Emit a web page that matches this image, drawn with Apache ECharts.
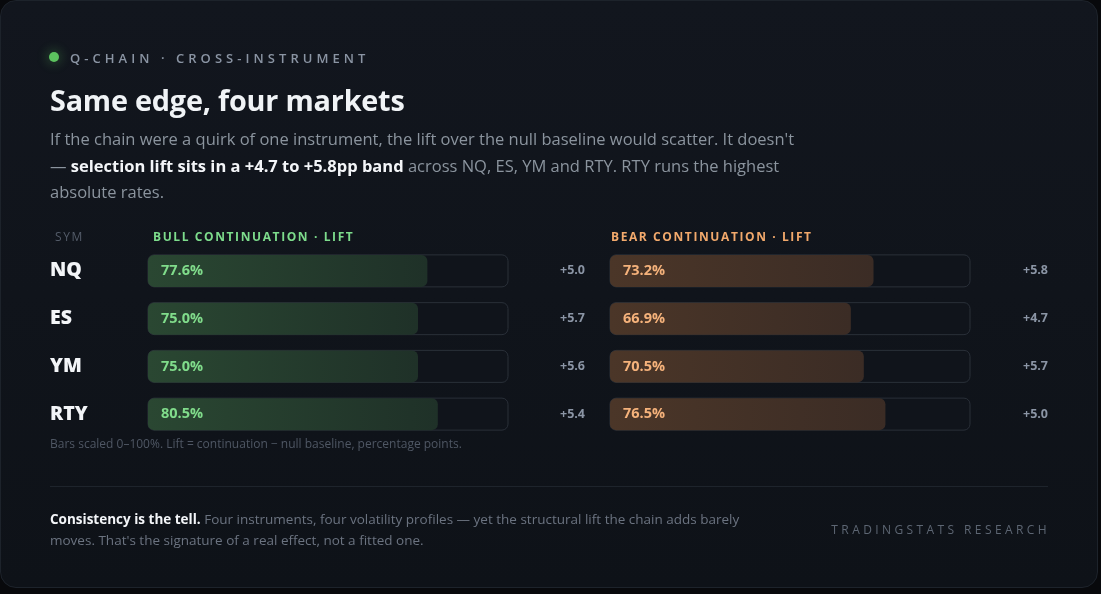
<!DOCTYPE html>
<html>
<head>
<meta charset="utf-8">
<script src="https://cdn.jsdelivr.net/npm/echarts@6/dist/echarts.min.js"></script>
<style>
  html, body { margin: 0; padding: 0; background: #08090c; }
  body { width: 1101px; height: 594px; position: relative; overflow: hidden; font-family: "Open Sans", "Noto Sans", sans-serif; }
  .card { position: absolute; left: 0; top: 0; width: 1098px; height: 588px; border-radius: 16px;
          background: linear-gradient(180deg, #12161e 0%, #0e1218 100%); border: 1px solid #1d232b; box-sizing: border-box; }
  #chart { position: absolute; left: 0; top: 0; width: 1101px; height: 594px; }
  .t { position: absolute; white-space: nowrap; }
  .dot { position: absolute; left: 49px; top: 52px; width: 10px; height: 10px; border-radius: 50%;
         background: #5cc25f; box-shadow: 0 0 10px 4px rgba(92,194,95,0.18); }
  .kicker { left: 70px; top: 49px; font-size: 13px; font-weight: 600; letter-spacing: 4.05px; color: #8a94a3; line-height: 18px; }
  .title { left: 50px; top: 80px; font-size: 28.8px; font-weight: 700; color: #f0f3f6; line-height: 40px; letter-spacing: -0.2px; }
  .lede { left: 50px; top: 126px; width: 752px; white-space: normal; font-size: 16.5px; line-height: 26.5px; color: #8b949e; }
  .lede b { color: #f3f5f8; font-weight: 700; }
  .hdr { top: 229px; font-size: 12px; line-height: 16px; letter-spacing: 1.6px; }
  .sym { left: 55px; color: #545c69; font-weight: 400; }
  .bull { left: 153px; color: #7ddc8c; font-weight: 700; }
  .bear { left: 611px; color: #f2a96c; font-weight: 700; }
  .note { left: 50px; top: 436px; font-size: 12px; line-height: 16px; color: #4f5764; }
  .rule { position: absolute; left: 50px; top: 486px; width: 998px; height: 1px; background: #1e242c; }
  .foot { left: 50px; top: 509px; width: 700px; white-space: normal; font-size: 13.5px; line-height: 21px; color: #6b7380; }
  .foot b { color: #f3f5f8; font-weight: 700; }
  .brand { right: 51px; top: 522px; font-size: 12px; line-height: 16px; letter-spacing: 3.4px; color: #5d6673; }
</style>
</head>
<body>
<div class="card"></div>
<div id="chart"></div>
<div class="dot"></div>
<div class="t kicker">Q-CHAIN · CROSS-INSTRUMENT</div>
<div class="t title">Same edge, four markets</div>
<div class="t lede">If the chain were a quirk of one instrument, the lift over the null baseline would scatter. It doesn't — <b>selection lift sits in a +4.7 to +5.8pp band</b> across NQ, ES, YM and RTY. RTY runs the highest absolute rates.</div>
<div class="t hdr sym">SYM</div>
<div class="t hdr bull">BULL CONTINUATION · LIFT</div>
<div class="t hdr bear">BEAR CONTINUATION · LIFT</div>
<div class="t note">Bars scaled 0–100%. Lift = continuation − null baseline, percentage points.</div>
<div class="rule"></div>
<div class="t foot"><b>Consistency is the tell.</b> Four instruments, four volatility profiles — yet the structural lift the chain adds barely moves. That's the signature of a real effect, not a fitted one.</div>
<div class="t brand">TRADINGSTATS RESEARCH</div>
<script>
const symbols = ['NQ', 'ES', 'YM', 'RTY'];
const bullRate = [77.6, 75.0, 75.0, 80.5];
const bullLift = [5.0, 5.7, 5.6, 5.4];
const bearRate = [73.2, 66.9, 70.5, 76.5];
const bearLift = [5.8, 4.7, 5.7, 5.0];

const FONT = '"Open Sans", "Noto Sans", sans-serif';
const fmtLift = v => '+' + v.toFixed(1);

function grad(a, b) {
  return new echarts.graphic.LinearGradient(0, 0, 1, 0, [
    {offset: 0, color: a}, {offset: 1, color: b}
  ]);
}

function barSeries(idx, data, from, to, labelColor) {
  return {
    type: 'bar',
    xAxisIndex: idx,
    yAxisIndex: idx * 2,
    data: data,
    barWidth: 32,
    showBackground: true,
    backgroundStyle: {color: '#10141b', borderColor: '#2a3039', borderWidth: 1, borderRadius: 6},
    itemStyle: {color: grad(from, to), borderRadius: 6},
    label: {
      show: true, position: 'insideLeft', distance: 13,
      formatter: p => p.value.toFixed(1) + '%',
      color: labelColor, fontFamily: FONT, fontSize: 14.5, fontWeight: 700
    },
    silent: true
  };
}

const chart = echarts.init(document.getElementById('chart'));
const grids = [
  {left: 148, top: 247, width: 360, height: 191},
  {left: 610, top: 247, width: 360, height: 191}
];
chart.setOption({
  animation: false,
  grid: grids,
  xAxis: grids.map((g, i) => ({
    type: 'value', gridIndex: i, min: 0, max: 100, show: false
  })),
  yAxis: [
    {type: 'category', gridIndex: 0, data: symbols, inverse: true, position: 'left',
     axisLine: {show: false}, axisTick: {show: false},
     axisLabel: {align: 'left', margin: 98, color: '#f3f5f8', fontFamily: FONT, fontSize: 19.5, fontWeight: 800}},
    {type: 'category', gridIndex: 0, data: bullLift.map(fmtLift), inverse: true, position: 'right',
     axisLine: {show: false}, axisTick: {show: false},
     axisLabel: {align: 'right', margin: 77, color: '#8b95a5', fontFamily: FONT, fontSize: 12.5, fontWeight: 700}},
    {type: 'category', gridIndex: 1, data: symbols, inverse: true, position: 'left',
     axisLine: {show: false}, axisTick: {show: false}, axisLabel: {show: false}},
    {type: 'category', gridIndex: 1, data: bearLift.map(fmtLift), inverse: true, position: 'right',
     axisLine: {show: false}, axisTick: {show: false},
     axisLabel: {align: 'right', margin: 78, color: '#8b95a5', fontFamily: FONT, fontSize: 12.5, fontWeight: 700}}
  ],
  series: [
    barSeries(0, bullRate, '#2a4732', '#1f3128', '#80dc8b'),
    barSeries(1, bearRate, '#4b3628', '#3b2c25', '#f5b27b')
  ]
});
</script>
</body>
</html>
